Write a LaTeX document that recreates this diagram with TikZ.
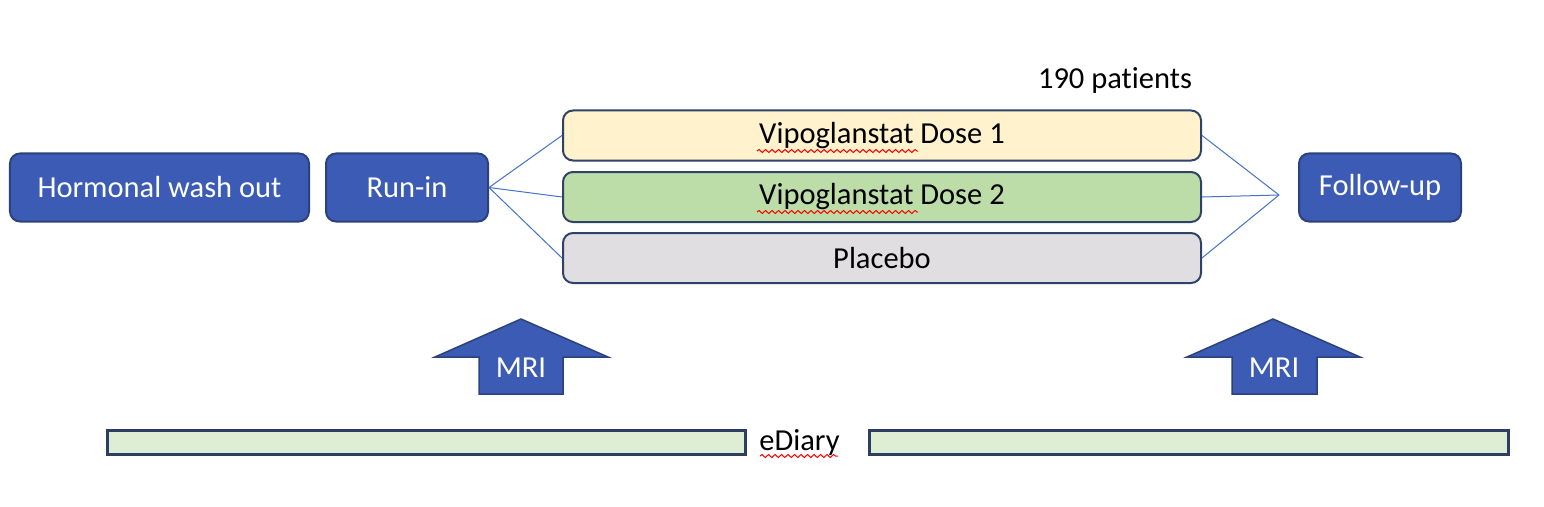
\documentclass[tikz,border=0pt]{standalone}
\usepackage{fontspec}
\setmainfont{Carlito}[Ligatures=NoCommon]
\usetikzlibrary{decorations.pathmorphing}
\definecolor{phasefill}{RGB}{59,91,181}
\definecolor{phaseline}{RGB}{44,66,122}
\definecolor{armline}{RGB}{47,66,104}
\definecolor{doseone}{RGB}{255,242,204}
\definecolor{dosetwo}{RGB}{188,221,168}
\definecolor{placebofill}{RGB}{224,222,225}
\definecolor{diaryfill}{RGB}{222,238,212}
\definecolor{diaryline}{RGB}{46,62,96}
\definecolor{linkblue}{RGB}{68,114,196}
\tikzset{
  every node/.style={font=\fontsize{12.2}{14.5}\selectfont},
  phase/.style={draw=phaseline, line width=0.8pt, fill=phasefill, text=white,
    rounded corners=4pt, minimum height=27.2pt, inner sep=0pt},
  arm/.style={draw=armline, line width=0.8pt, rounded corners=4pt,
    minimum width=255.2pt, minimum height=20pt, inner sep=0pt},
  diarybar/.style={draw=diaryline, line width=1.2pt, fill=diaryfill,
    minimum height=9.6pt, inner sep=0pt},
  mriarrow/.style={draw=phaseline, line width=0.6pt, fill=phasefill},
  link/.style={draw=linkblue, line width=0.4pt},
  spell/.style={draw=red, line width=0.4pt,
    decorate, decoration={snake, amplitude=0.6pt, segment length=2.6pt}}
}
\begin{document}
\begin{tikzpicture}[x=0.4pt,y=-0.4pt]
  \useasboundingbox (0,0) rectangle (1544,506);
  % study phases
  \draw
    (159.5,187.5) node[phase, minimum width=119.6pt] (washout){Hormonal wash out}
    (407,187.5) node[phase, minimum width=64.8pt] (runin){Run-in}
    (1380,187.5) node[phase, minimum width=64.8pt] (followup){Follow-up};
  % treatment arms
  \draw
    (882,135.5) node[arm, fill=doseone] (dose1){Vipoglanstat Dose 1}
    (882,197) node[arm, fill=dosetwo] (dose2){Vipoglanstat Dose 2}
    (882,258) node[arm, fill=placebofill] (placebo){Placebo}
    (1115,80) node (patients){190 patients};
  \coordinate (merge) at (1279,195);
  \begin{scope}[link]
    \draw (runin.east) to (dose1.west);
    \draw (runin.east) to (dose2.west);
    \draw (runin.east) to (placebo.west);
    \draw (dose1.east) to (merge);
    \draw (dose2.east) to (merge);
    \draw (placebo.east) to (merge);
  \end{scope}
  % MRI arrows
  \draw[mriarrow] (521,319) -- (608,357) -- (563,357) -- (563,394)
    -- (479,394) -- (479,357) -- (435,357) -- cycle;
  \draw[mriarrow] (1273,319) -- (1360,357) -- (1317,357) -- (1317,394)
    -- (1232,394) -- (1232,357) -- (1187,357) -- cycle;
  \node[text=white] (mri1) at (521,368) {MRI};
  \node[text=white] (mri2) at (1274,368) {MRI};
  % eDiary
  \draw
    (426.5,442) node[diarybar, minimum width=254.8pt] (diary1){}
    (1188.5,442) node[diarybar, minimum width=255.6pt] (diary2){}
    (799.5,442) node (ediary){eDiary};
  % spell check marks
  \draw[spell] (757,151) -- (918,151);
  \draw[spell] (757,212) -- (918,212);
  \draw[spell] (760,456) -- (838,456);
\end{tikzpicture}
\end{document}
